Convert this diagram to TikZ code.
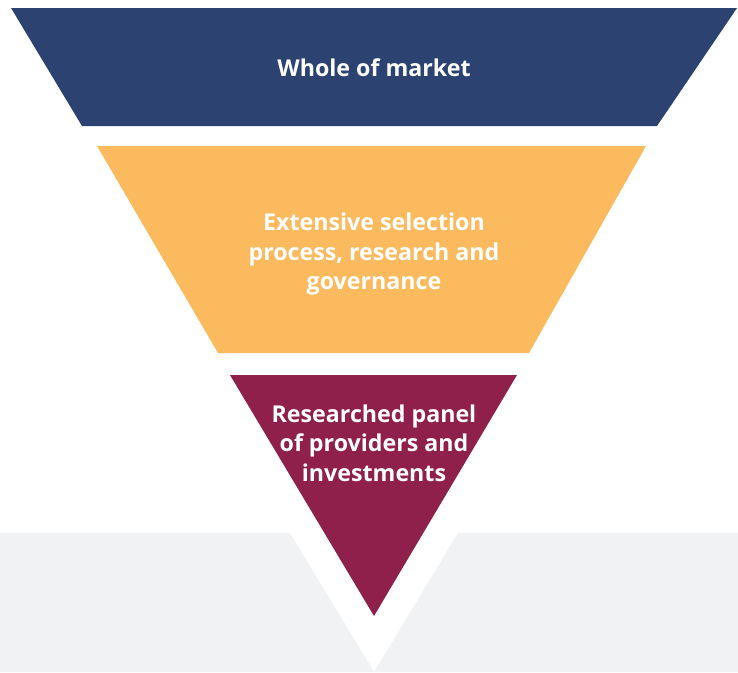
\documentclass[tikz,border=0pt]{standalone}
\usepackage{fontspec}
\setmainfont{Open Sans}
\usetikzlibrary{positioning}

\definecolor{marketblue}{HTML}{2C4372}
\definecolor{selectyellow}{HTML}{FCBA5F}
\definecolor{panelred}{HTML}{8F1F4B}
\definecolor{bggrey}{HTML}{F1F2F4}

\begin{document}
\begin{tikzpicture} [x=1pt, y=-1pt, tierlabel/.style={text=white, align=center, font=\bfseries\fontsize{23.2}{29.5}\selectfont}]
        \useasboundingbox (0,0) rectangle (738,672);
        % grey band with the white notch
        \fill [bggrey] (0,533) -- (290,533) -- (374,672) -- (458,533) -- (738,533) -- (738,672) -- (0,672) -- cycle;

        % funnel tiers
        \fill [marketblue] (11,8) -- (737,8) -- (657,126) -- (82,126) -- cycle;
        \fill [selectyellow] (97,146) -- (646,146) -- (529,353) -- (218,353) -- cycle;
        \fill [panelred] (230,375) -- (517,375) -- (374,616) -- cycle;

        \node (whole) [tierlabel] at (374,68) {Whole of market};
        \node (selection) [tierlabel] at (374,254) {Extensive selection\\process, research and\\governance};
        \node (panel) [tierlabel] at (374,443) {Researched panel\\of providers and\\investments};
    \end{tikzpicture}
\end{document}
